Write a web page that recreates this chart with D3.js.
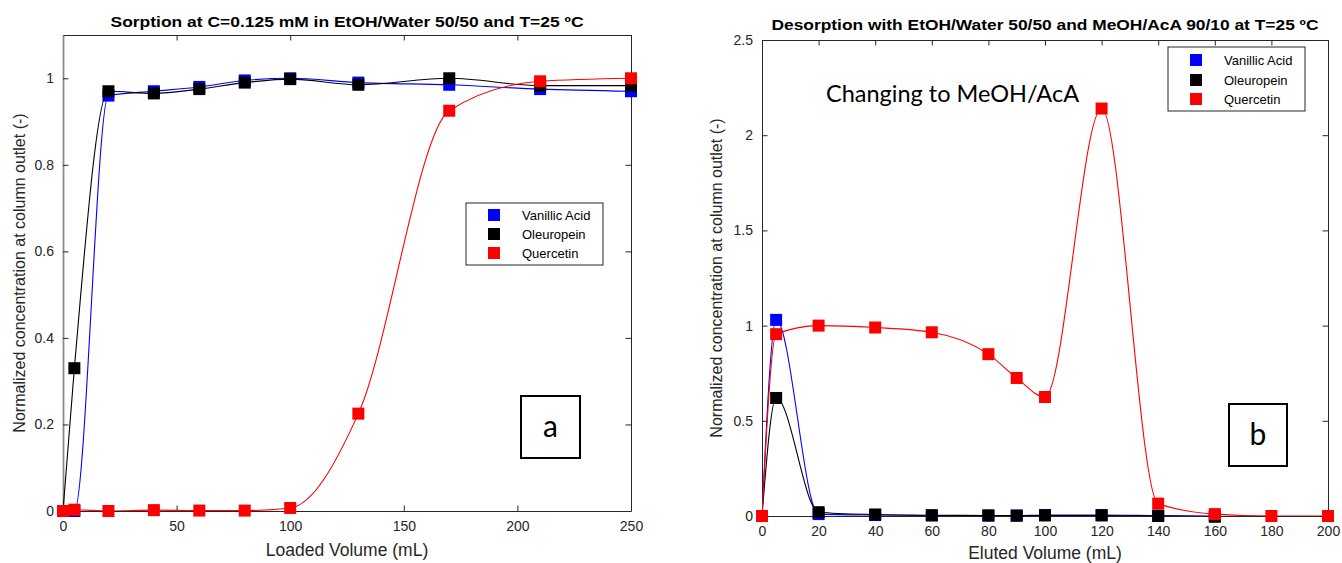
<!DOCTYPE html>
<html>
<head>
<meta charset="utf-8">
<script src="https://cdn.jsdelivr.net/npm/d3@7"></script>
<style>
  body { margin: 0; background: #fff; }
  svg text { font-family: "Liberation Sans", Arial, sans-serif; }
</style>
</head>
<body>
<svg id="chart" width="1342" height="563"></svg>
<script>
// Compound names and colours shared by both panels
const seriesNames = ["Vanillic Acid", "Oleuropein", "Quercetin"];
const seriesColors = ["#0000ff", "#000000", "#ff0000"];

// Panel a: sorption breakthrough (loaded volume, mL)
const loadedVolume = [0, 5, 20, 40, 60, 80, 100, 130, 170, 210, 250];
const sorpVanillic = [0, 0, 0.96, 0.97, 0.98, 0.995, 1.0, 0.99, 0.985, 0.975, 0.97];
const sorpOleuropein = [0, 0.33, 0.97, 0.965, 0.975, 0.99, 0.998, 0.985, 1.0, 0.983, 0.983];
const sorpQuercetin = [0, 0.003, 0, 0.002, 0.001, 0.001, 0.007, 0.225, 0.925, 0.993, 1.0];
const sorpXTicks = [0, 50, 100, 150, 200, 250];
const sorpYTicks = [0, 0.2, 0.4, 0.6, 0.8, 1];

// Panel b: desorption profile (eluted volume, mL)
const elutedVolume = [0, 5, 20, 40, 60, 80, 90, 100, 120, 140, 160, 180, 200];
const elutedVolumeShort = [0, 5, 20, 40, 60, 80, 90, 100, 120, 140, 160];
const desVanillic = [0, 1.03, 0.01, 0.005, 0.003, 0.002, 0.002, 0.005, 0.005, 0.002, 0];
const desOleuropein = [0, 0.62, 0.02, 0.008, 0.004, 0.003, 0.002, 0.003, 0.003, 0.0, -0.004];
const desQuercetin = [0, 0.955, 1.0, 0.99, 0.965, 0.85, 0.725, 0.625, 2.14, 0.065, 0.01, 0.0, 0.0];
const desXTicks = [0, 20, 40, 60, 80, 100, 120, 140, 160, 180, 200];
const desYTicks = [0, 0.5, 1, 1.5, 2, 2.5];

const svg = d3.select("#chart");

function drawPanel(cfg) {
  const x = d3.scaleLinear().domain(cfg.xDomain).range([cfg.left, cfg.right]);
  const y = d3.scaleLinear().domain(cfg.yDomain).range([cfg.bottom, cfg.top]);
  const g = svg.append("g");
  const tickLen = 5.5;
  const axisColor = "#262626";

  // Clip so curves stay inside the axes box
  const clipId = "clip-" + cfg.id;
  svg.append("clipPath").attr("id", clipId).append("rect")
    .attr("x", cfg.left).attr("y", cfg.top)
    .attr("width", cfg.right - cfg.left).attr("height", cfg.bottom - cfg.top);

  // Axes: bottom/left with labels, top/right mirrored, all ticks pointing inward
  const fmt = cfg.yFormat;
  const bottomAxis = d3.axisBottom(x).tickValues(cfg.xTicks).tickSizeInner(-tickLen).tickSizeOuter(0).tickPadding(10);
  const topAxis = d3.axisTop(x).tickValues(cfg.xTicks).tickSizeInner(-tickLen).tickSizeOuter(0).tickFormat("");
  const leftAxis = d3.axisLeft(y).tickValues(cfg.yTicks).tickSizeInner(-tickLen).tickSizeOuter(0).tickPadding(9).tickFormat(fmt);
  const rightAxis = d3.axisRight(y).tickValues(cfg.yTicks).tickSizeInner(-tickLen).tickSizeOuter(0).tickFormat("");

  const axes = [
    [bottomAxis, `translate(0,${cfg.bottom})`, axisColor, 1],
    [topAxis, `translate(0,${cfg.top})`, axisColor, 1],
    [leftAxis, `translate(${cfg.left},0)`, cfg.leftColor, cfg.leftWidth],
    [rightAxis, `translate(${cfg.right},0)`, axisColor, 1]
  ];
  axes.forEach(([ax, tr, col, w]) => {
    const a = g.append("g").attr("transform", tr).call(ax);
    a.select(".domain").attr("stroke", col).attr("stroke-width", w);
    a.selectAll(".tick line").attr("stroke", axisColor);
    a.selectAll(".tick text").attr("fill", "#262626").style("font-size", "14px");
  });

  // Series: monotone cubic curves with square markers
  const line = d3.line().x(d => x(d[0])).y(d => y(d[1])).curve(d3.curveMonotoneX);
  const ms = 12;
  cfg.series.forEach((s, i) => {
    const pts = s.xs.map((v, k) => [v, s.ys[k]]);
    g.append("path").datum(pts)
      .attr("clip-path", `url(#${clipId})`)
      .attr("d", line).attr("fill", "none")
      .attr("stroke", seriesColors[i]).attr("stroke-width", 1.1);
    g.append("g").selectAll("rect").data(pts).join("rect")
      .attr("x", d => x(d[0]) - ms / 2).attr("y", d => y(d[1]) - ms / 2)
      .attr("width", ms).attr("height", ms)
      .attr("fill", seriesColors[i]);
  });

  // Title and axis labels
  g.append("text").attr("x", (cfg.left + cfg.right) / 2).attr("y", cfg.titleY)
    .attr("text-anchor", "middle").style("font-size", "15px").style("font-weight", "bold")
    .attr("textLength", cfg.titleWidth).attr("lengthAdjust", "spacingAndGlyphs")
    .attr("fill", "#000").text(cfg.title);
  g.append("text").attr("x", (cfg.left + cfg.right) / 2).attr("y", cfg.xLabelY)
    .attr("text-anchor", "middle").style("font-size", "17.5px").attr("fill", "#262626")
    .text(cfg.xLabel);
  g.append("text")
    .attr("transform", `translate(${cfg.yLabelX},${(cfg.top + cfg.bottom) / 2}) rotate(-90)`)
    .attr("text-anchor", "middle").style("font-size", "16px").attr("fill", "#262626")
    .text("Normalized concentration at column outlet (-)");

  // Legend
  const L = cfg.legend;
  const lg = g.append("g");
  lg.append("rect").attr("x", L.x0).attr("y", L.y0).attr("width", L.x1 - L.x0).attr("height", L.y1 - L.y0)
    .attr("fill", "#fff").attr("stroke", "#262626").attr("stroke-width", 1);
  seriesNames.forEach((name, i) => {
    const cy = L.rowY[i];
    lg.append("rect").attr("x", L.markX - 6).attr("y", cy - 6).attr("width", 12).attr("height", 12)
      .attr("fill", seriesColors[i]);
    lg.append("text").attr("x", L.textX).attr("y", cy + 5).style("font-size", "13px")
      .attr("fill", "#000").text(name);
  });

  // Panel letter box
  const B = cfg.badge;
  g.append("rect").attr("x", B.x0).attr("y", B.y0).attr("width", B.x1 - B.x0).attr("height", B.y1 - B.y0)
    .attr("fill", "#fff").attr("stroke", "#000").attr("stroke-width", 2);
  g.append("text").attr("x", (B.x0 + B.x1) / 2).attr("y", (B.y0 + B.y1) / 2 + 10)
    .attr("text-anchor", "middle").style("font-family", "Lato, 'Open Sans', sans-serif")
    .style("font-size", "30px").attr("fill", "#000").text(B.label);

  return { x, y, g };
}

drawPanel({
  id: "a",
  left: 63, right: 631, top: 35, bottom: 511,
  xDomain: [0, 250], yDomain: [0, 1.1],
  xTicks: sorpXTicks, yTicks: sorpYTicks,
  yFormat: d => d3.format("~g")(d),
  leftColor: "#8c8c8c", leftWidth: 1.8,
  series: [
    { xs: loadedVolume, ys: sorpVanillic },
    { xs: loadedVolume, ys: sorpOleuropein },
    { xs: loadedVolume, ys: sorpQuercetin }
  ],
  title: "Sorption at C=0.125 mM in EtOH/Water 50/50 and T=25 ºC",
  titleY: 27, titleWidth: 473,
  xLabel: "Loaded Volume (mL)", xLabelY: 556,
  yLabelX: 25,
  legend: { x0: 466, x1: 603, y0: 203, y1: 265, markX: 494, textX: 522, rowY: [215, 234, 253] },
  badge: { x0: 521, x1: 580, y0: 396, y1: 458, label: "a" }
});

const pb = drawPanel({
  id: "b",
  left: 762, right: 1328, top: 40, bottom: 516,
  xDomain: [0, 200], yDomain: [0, 2.5],
  xTicks: desXTicks, yTicks: desYTicks,
  yFormat: d => d3.format("~g")(d),
  leftColor: "#262626", leftWidth: 1,
  series: [
    { xs: elutedVolumeShort, ys: desVanillic },
    { xs: elutedVolumeShort, ys: desOleuropein },
    { xs: elutedVolume, ys: desQuercetin }
  ],
  title: "Desorption with EtOH/Water 50/50 and MeOH/AcA 90/10 at T=25 ºC",
  titleY: 30, titleWidth: 547,
  xLabel: "Eluted Volume (mL)", xLabelY: 559,
  yLabelX: 722,
  legend: { x0: 1168, x1: 1305, y0: 47, y1: 111, markX: 1196, textX: 1224, rowY: [60, 80, 99] },
  badge: { x0: 1229, x1: 1287, y0: 404, y1: 466, label: "b" }
});

// Annotation for the solvent change
pb.g.append("text").attr("x", 826).attr("y", 102)
  .style("font-family", "Lato, 'Open Sans', sans-serif").style("font-size", "23.5px")
  .attr("fill", "#000").text("Changing to MeOH/AcA");
</script>
</body>
</html>
